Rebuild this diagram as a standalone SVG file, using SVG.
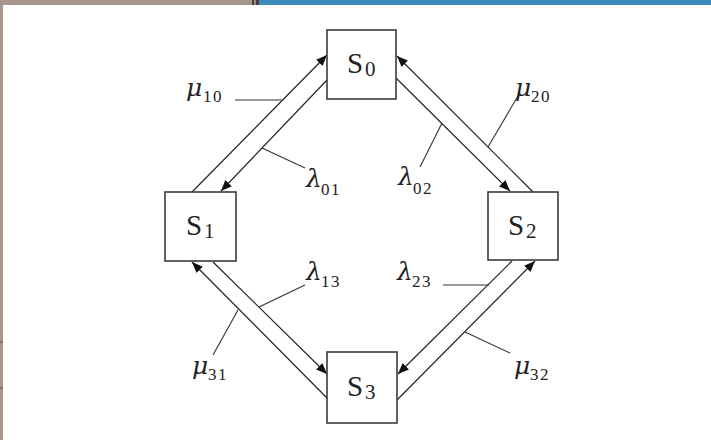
<svg xmlns="http://www.w3.org/2000/svg" width="711" height="440" viewBox="0 0 711 440">
<defs>
<marker id="ah" markerUnits="userSpaceOnUse" markerWidth="12" markerHeight="10" refX="11" refY="4.5" orient="auto">
<path d="M0,0 L11,4.5 L0,9 Z" fill="#111"/>
</marker>
<style>
.box{fill:#fff;stroke:#3a3a3a;stroke-width:1.6}
.lbl{font-family:"Liberation Serif","Times New Roman",serif;fill:#222}
.st{font-size:29px}
.ss{font-size:21px}
.gr{font-family:"DejaVu Serif","Liberation Serif",serif;font-size:25px;font-style:italic}
.sb{font-size:17px;letter-spacing:1.5px}
.edge{stroke:#222;stroke-width:1.2;fill:none}
.ldr{stroke:#333;stroke-width:1.1;fill:none}
</style>
</defs>
<rect width="711" height="440" fill="#fff"/>
<g id="frame">
<rect x="0" y="0" width="252" height="5" fill="#a8968c"/>
<rect x="252" y="0" width="7" height="5" fill="#4a403c"/>
<rect x="254" y="0" width="2" height="5" fill="#9a8a82"/>
<rect x="259" y="0" width="452" height="5" fill="#3a8abb"/>
<rect x="0" y="0" width="3" height="440" fill="#a8968c"/>
<rect x="0" y="341" width="3" height="2" fill="#7f716a"/>
<rect x="0" y="387" width="3" height="2" fill="#7f716a"/>
</g>
<g id="connectors">
<line class="edge" x1="192" y1="192" x2="327" y2="55" marker-end="url(#ah)"/>
<line class="edge" x1="327" y1="80" x2="221" y2="191" marker-end="url(#ah)"/>
<line class="edge" x1="533" y1="192" x2="397" y2="56" marker-end="url(#ah)"/>
<line class="edge" x1="396" y1="78" x2="510" y2="191" marker-end="url(#ah)"/>
<line class="edge" x1="327" y1="398" x2="192" y2="262" marker-end="url(#ah)"/>
<line class="edge" x1="213" y1="262" x2="327" y2="374" marker-end="url(#ah)"/>
<line class="edge" x1="512" y1="261" x2="398" y2="374" marker-end="url(#ah)"/>
<line class="edge" x1="397" y1="400" x2="535" y2="261" marker-end="url(#ah)"/>
<polyline class="ldr" points="235,100 282,100"/>
<polyline class="ldr" points="262,148 305,168"/>
<polyline class="ldr" points="488,147 518,96"/>
<polyline class="ldr" points="442,123 420,167"/>
<polyline class="ldr" points="259,307 305,285"/>
<polyline class="ldr" points="238,310 213,355"/>
<polyline class="ldr" points="443,285 489,285"/>
<polyline class="ldr" points="465,332 510,353"/>
</g>
<g id="S0">
<rect class="box" x="327" y="30" width="69" height="69"/>
<text class="lbl st" x="347" y="73">S<tspan class="ss" x="365" dy="3">0</tspan></text>
</g>
<g id="S1">
<rect class="box" x="165" y="192" width="71" height="69"/>
<text class="lbl st" x="186" y="235">S<tspan class="ss" x="204" dy="3">1</tspan></text>
</g>
<g id="S2">
<rect class="box" x="488" y="192" width="70" height="68"/>
<text class="lbl st" x="508" y="235">S<tspan class="ss" x="526" dy="3">2</tspan></text>
</g>
<g id="S3">
<rect class="box" x="327" y="352" width="70" height="71"/>
<text class="lbl st" x="347" y="396">S<tspan class="ss" x="365" dy="3">3</tspan></text>
</g>
<g id="labels">
<g id="mu10"><text class="lbl gr" x="186" y="96">μ</text><text class="lbl sb" x="203" y="102">10</text></g>
<g id="lam01"><text class="lbl gr" x="306" y="187">λ</text><text class="lbl sb" x="321" y="195">01</text></g>
<g id="mu20"><text class="lbl gr" x="515" y="96">μ</text><text class="lbl sb" x="531" y="102">20</text></g>
<g id="lam02"><text class="lbl gr" x="398" y="185">λ</text><text class="lbl sb" x="413" y="194">02</text></g>
<g id="lam13"><text class="lbl gr" x="306" y="280">λ</text><text class="lbl sb" x="321" y="287">13</text></g>
<g id="lam23"><text class="lbl gr" x="397" y="280">λ</text><text class="lbl sb" x="412" y="287">23</text></g>
<g id="mu31"><text class="lbl gr" x="192" y="374">μ</text><text class="lbl sb" x="208" y="380">31</text></g>
<g id="mu32"><text class="lbl gr" x="514" y="374">μ</text><text class="lbl sb" x="530" y="380">32</text></g>
</g>
</svg>
